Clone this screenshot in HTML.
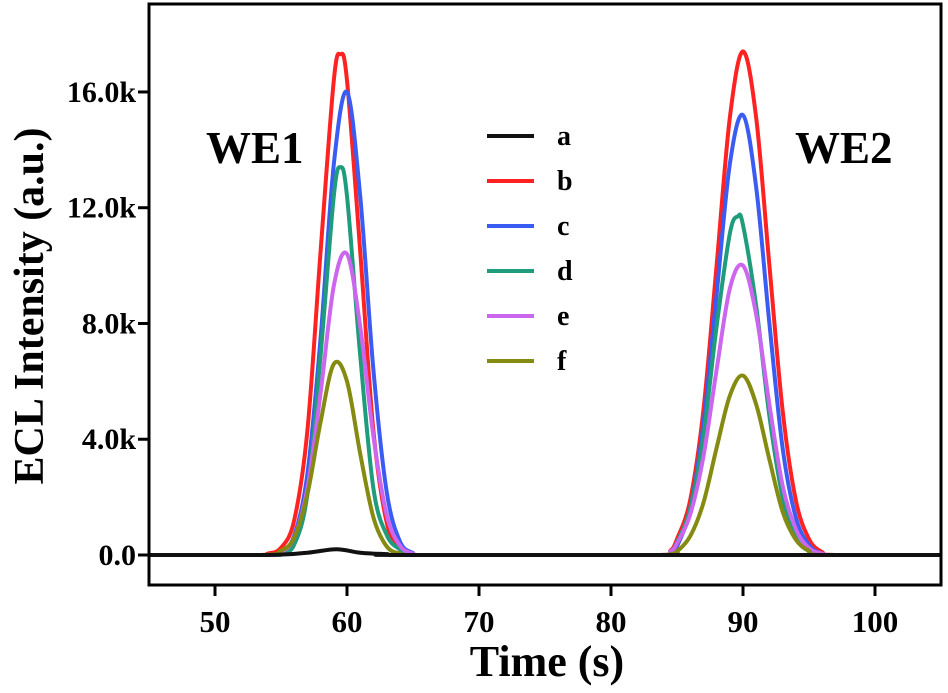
<!DOCTYPE html>
<html><head><meta charset="utf-8"><style>
body{margin:0;background:#fff}
svg text{font-family:"Liberation Serif",serif;font-weight:bold;fill:#000}
</style></head><body>
<svg id="c" width="948" height="688" viewBox="0 0 948 688" xmlns="http://www.w3.org/2000/svg"></svg>
<script>
const xTicks=[50,60,70,80,90,100];
const yTicks=[0,4,8,12,16];
const yTickLabels=["0.0","4.0k","8.0k","12.0k","16.0k"];
const seriesNames=["a","b","c","d","e","f"];
const seriesColors=["#111111","#ff2222","#3b5cf2","#1f9c7c","#cc66ee","#858a10"];
const seriesA=[[45,0],[54,0],[57,0.08],[59.2,0.2],[61,0.08],[63,0.03],[66,0],[105,0]];
const seriesB=[[45,0],[53,0],[54,0.05],[55,0.25],[56,1.2],[57,4.3],[58,10.5],[59,16.4],[59.5,17.3],[60,16.4],[61,10.5],[62,4.3],[63,1.14],[64,0.19],[65,0.02],[66,0],[83.5,0],[84.5,0.15],[85,0.55],[86,1.9],[87,5.0],[88,10],[89,15.1],[90,17.4],[91,15.1],[92,10],[93,5.0],[94,1.9],[95,0.55],[96,0.1],[97,0],[105,0]];
const seriesC=[[45,0],[54,0],[55,0.1],[56,0.67],[57,2.8],[58,7.5],[59,13.5],[60,16],[61,12.4],[62,6.4],[63,2.2],[64,0.48],[65,0.07],[66,0],[83.5,0],[84.5,0.08],[85,0.3],[86,1.6],[87,4.5],[88,9.0],[89,13.5],[90,15.2],[91,12.7],[92,8.0],[93,3.7],[94,1.3],[95,0.34],[96,0.05],[97,0],[105,0]];
const seriesD=[[45,0],[54,0],[55,0.05],[56,0.36],[57,2.1],[58,6.9],[59,12.4],[59.5,13.4],[60,12.4],[61,6.9],[62,2.3],[63,0.7],[64,0.2],[65,0.03],[66,0],[83.5,0],[84.5,0.12],[85,0.44],[86,1.6],[87,4.1],[88,7.9],[89,11.1],[89.6,11.7],[90,11.4],[91,8.6],[92,4.8],[93,2.0],[94,0.6],[95,0.13],[96,0],[105,0]];
const seriesE=[[45,0],[54,0],[55,0.1],[56,0.6],[57,2.3],[58,5.6],[59,9.3],[60,10.4],[61,7.9],[62,4.1],[63,1.4],[64,0.33],[65,0.05],[66,0],[83.5,0],[84.5,0.12],[85,0.4],[86,1.4],[87,3.4],[88,6.4],[89,9.2],[90,10.0],[91,8.3],[92,5.2],[93,2.4],[94,0.9],[95,0.24],[96,0.05],[97,0],[105,0]];
const seriesF=[[45,0],[53.5,0],[55,0.15],[56,0.6],[57,2.1],[58,4.6],[59,6.6],[60,6.0],[61,3.5],[62,1.3],[63,0.3],[64,0.05],[65,0],[83.5,0],[84.5,0.03],[85,0.12],[86,0.65],[87,1.8],[88,3.7],[89,5.5],[90,6.2],[91,5.2],[92,3.3],[93,1.5],[94,0.53],[95,0.14],[96,0],[105,0]];
const allSeries=[seriesA,seriesB,seriesC,seriesD,seriesE,seriesF];

const NS="http://www.w3.org/2000/svg";
const svg=document.getElementById('c');
const L=149,R=941,T=4,B=585;
const X=v=>L+(v-45)/60*(R-L);
const Y=v=>555-v*28.94;
function mk(tag,attrs,parent){const e=document.createElementNS(NS,tag);for(const k in attrs)e.setAttribute(k,attrs[k]);(parent||svg).appendChild(e);return e;}
function path(pts){
  const p=pts.map(d=>[X(d[0]),Y(d[1])]);
  let s="M"+p[0][0].toFixed(1)+","+p[0][1].toFixed(1);
  for(let i=0;i<p.length-1;i++){
    const p0=p[Math.max(0,i-1)],p1=p[i],p2=p[i+1],p3=p[Math.min(p.length-1,i+2)];
    const c1=[p1[0]+(p2[0]-p0[0])/6,Math.min(555,p1[1]+(p2[1]-p0[1])/6)];
    const c2=[p2[0]-(p3[0]-p1[0])/6,Math.min(555,p2[1]-(p3[1]-p1[1])/6)];
    s+="C"+c1.map(v=>v.toFixed(1))+" "+c2.map(v=>v.toFixed(1))+" "+p2.map(v=>v.toFixed(1));
  }
  return s;
}
const order=[1,2,3,4,5,0];
order.forEach(i=>{
  const e=mk('path',{d:path(allSeries[i]),fill:'none',stroke:seriesColors[i],'stroke-width':4,'stroke-linejoin':'round'});
  
  
});
const fr=mk('rect',{x:L,y:T,width:R-L,height:B-T,fill:'none',stroke:'#000','stroke-width':3});


xTicks.forEach(t=>{
  const l=mk('line',{x1:X(t),x2:X(t),y1:B,y2:B+11,stroke:'#000','stroke-width':3});
  
  
  const tx=mk('text',{x:X(t),y:632,'text-anchor':'middle','font-size':31});
  tx.textContent=t;
  
  
});
yTicks.forEach((t,i)=>{
  const l=mk('line',{x1:L-11,x2:L,y1:Y(t),y2:Y(t),stroke:'#000','stroke-width':3});
  
  
  const tx=mk('text',{x:136,y:Y(t)+10,'text-anchor':'end','font-size':30});
  tx.textContent=yTickLabels[i];
  
  
});
seriesNames.forEach((n,i)=>{
  const y=136+i*45;
  const l=mk('line',{x1:487,x2:534,y1:y,y2:y,stroke:seriesColors[i],'stroke-width':4});
  
  
  const tx=mk('text',{x:557,y:y+9,'font-size':28});
  tx.textContent=n;
  
  
});
</script>
<svg style="position:absolute;left:0;top:0" width="948" height="688">
<text x="206" y="163" font-size="45">WE1</text>
<text x="795" y="163" font-size="45">WE2</text>
<text x="547" y="676" text-anchor="middle" font-size="44">Time (s)</text>
<text transform="translate(43,306) rotate(-90)" text-anchor="middle" font-size="42">ECL Intensity (a.u.)</text>
</svg>
</body></html>
